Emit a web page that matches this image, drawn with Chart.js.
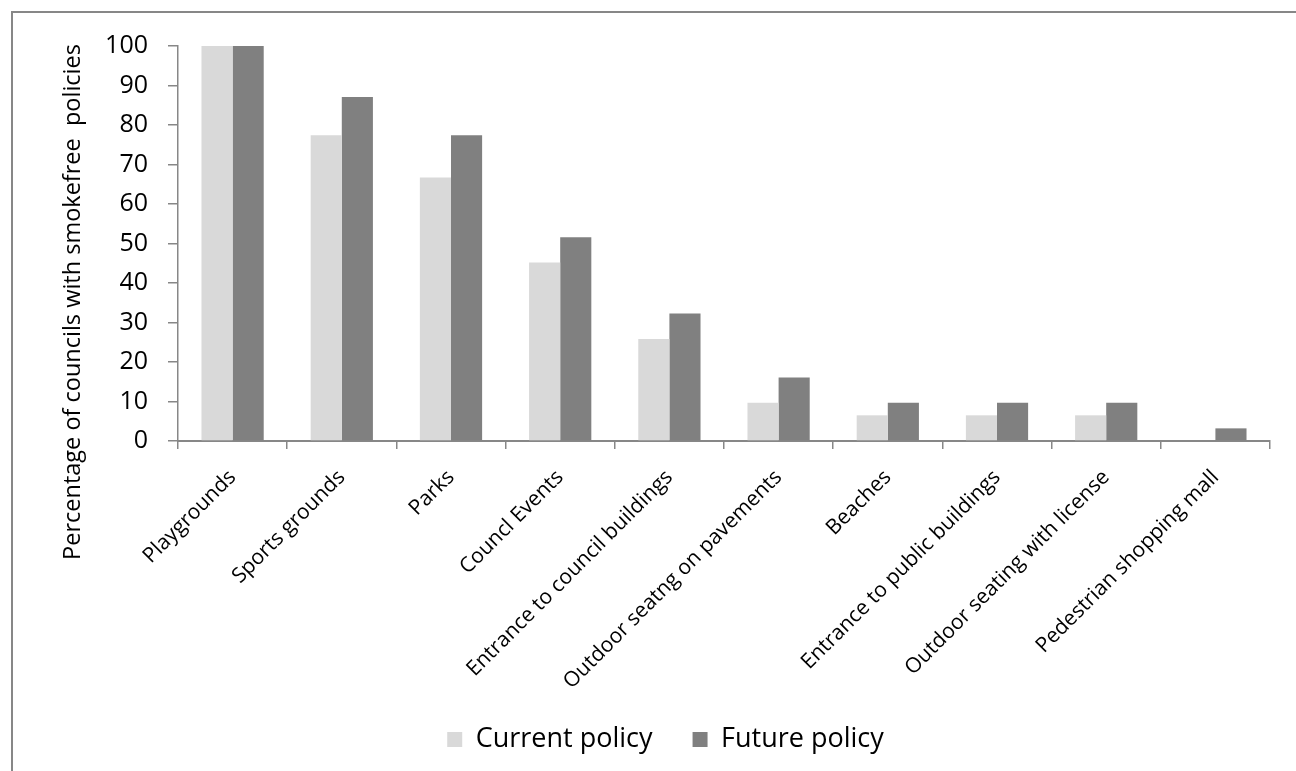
<!DOCTYPE html>
<html>
<head>
<meta charset="utf-8">
<script src="https://cdn.jsdelivr.net/npm/chart.js@4"></script>
<style>
  html, body { margin: 0; padding: 0; background: #fff; overflow: hidden; }
  #wrap { position: relative; width: 1296px; height: 771px; overflow: hidden; }
  #frame { position: absolute; left: 11px; top: 11px; width: 2000px; height: 2000px;
           border-left: 2px solid #878787; border-top: 2px solid #878787; }
  canvas { position: absolute; left: 0; top: 0; }
</style>
</head>
<body>
<div id="wrap">
  <div id="frame"></div>
  <canvas id="chart" width="1296" height="771"></canvas>
</div>
<script>
// categories and values
const categories = [
    'Playgrounds',
    'Sports grounds',
    'Parks',
    'Councl Events',
    'Entrance to council buildings',
    'Outdoor seatng on pavements',
    'Beaches',
    'Entrance to public buildings',
    'Outdoor seating with license',
    'Pedestrian shopping mall'
];
const currentPolicy = [100, 77.4, 66.7, 45.2, 25.8, 9.7, 6.5, 6.5, 6.5, 0];
const futurePolicy = [100, 87.1, 77.4, 51.6, 32.3, 16.1, 9.7, 9.7, 9.7, 3.2];
const yTicks = [0, 10, 20, 30, 40, 50, 60, 70, 80, 90, 100];
const yTitle = 'Percentage of councils with smokefree  policies';

const FONT = '"Open Sans", "Liberation Sans", sans-serif';
const AXIS_GREY = '#878787';
const LEGEND_BOTTOM = 8;

// rotated y-axis title, placed like the original (not centred on the plot)
const yTitlePlugin = {
    id: 'yTitle',
    afterDraw(chart) {
        const ctx = chart.ctx;
        ctx.save();
        ctx.translate(73, 302);
        ctx.rotate(-Math.PI / 2);
        ctx.font = '23.5px ' + FONT;
        ctx.fillStyle = '#000';
        ctx.textAlign = 'center';
        ctx.textBaseline = 'middle';
        ctx.fillText(yTitle, 0, 0);
        ctx.restore();
    }
};

const ctx = document.getElementById('chart').getContext('2d');
new Chart(ctx, {
    type: 'bar',
    data: {
        labels: categories,
        datasets: [{
            label: 'Current policy',
            data: currentPolicy,
            backgroundColor: '#d9d9d9',
            borderWidth: 0,
            categoryPercentage: 0.57,
            barPercentage: 1.0
        }, {
            label: 'Future policy',
            data: futurePolicy,
            backgroundColor: '#808080',
            borderWidth: 0,
            categoryPercentage: 0.57,
            barPercentage: 1.0
        }]
    },
    options: {
        responsive: false,
        animation: false,
        events: [],
        layout: { padding: { left: 61, right: 26, top: 46, bottom: LEGEND_BOTTOM } },
        plugins: {
            tooltip: { enabled: false },
            legend: {
                position: 'bottom',
                labels: {
                    boxWidth: 15,
                    boxHeight: 15,
                    padding: 40,
                    color: '#000',
                    font: { family: FONT, size: 27 }
                }
            }
        },
        scales: {
            x: {
                grid: {
                    drawOnChartArea: false,
                    color: AXIS_GREY,
                    tickLength: 8,
                    tickColor: AXIS_GREY,
                    lineWidth: 1.5
                },
                border: { color: AXIS_GREY, width: 2 },
                ticks: {
                    color: '#000',
                    font: { family: FONT, size: 21 },
                    minRotation: 45,
                    maxRotation: 45,
                    autoSkip: false,
                    padding: 16
                },
                afterFit: s => { s.height = s.chart.height - LEGEND_BOTTOM - s.chart.legend.height - 441; }
            },
            y: {
                min: 0,
                max: 100,
                grid: {
                    drawOnChartArea: false,
                    color: AXIS_GREY,
                    tickLength: 10,
                    tickColor: AXIS_GREY,
                    lineWidth: 1.5
                },
                border: { color: AXIS_GREY, width: 1.5 },
                ticks: {
                    color: '#000',
                    font: { family: FONT, size: 25 },
                    padding: 20
                },
                afterBuildTicks: s => { s.ticks = yTicks.map(v => ({ value: v })); },
                afterFit: s => { s.width = 117; }
            }
        }
    },
    plugins: [yTitlePlugin]
});
</script>
</body>
</html>
